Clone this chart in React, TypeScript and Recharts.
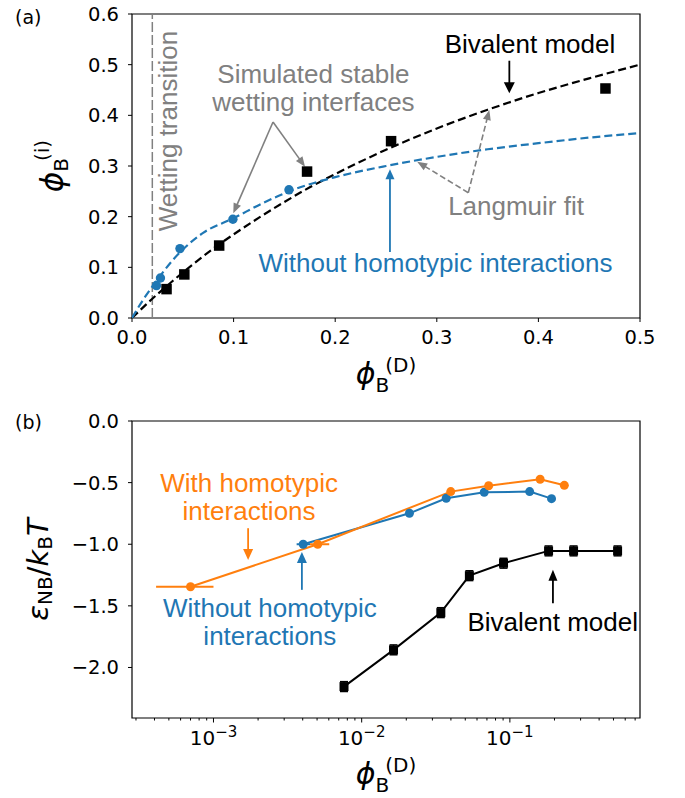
import React from 'react';
import {
  ComposedChart,
  Line,
  Scatter,
  XAxis,
  YAxis,
  ReferenceLine,
  ReferenceDot,
  ReferenceArea,
  ErrorBar,
} from 'recharts';

const BLUE = '#1f77b4';
const ORANGE = '#ff7f0e';
const GRAY = '#808080';
const MATH_FONT = '"DejaVu Sans", sans-serif';
const TEXT_FONT = '"Liberation Sans", Arial, sans-serif';
const TICK_SIZE = 19.5;
const NOTE_SIZE = 26;

// ---------- panel (a): interfacial vs dense-phase volume fraction ----------
const adsorptionXTicks = [0, 0.1, 0.2, 0.3, 0.4, 0.5];
const adsorptionYTicks = [0, 0.1, 0.2, 0.3, 0.4, 0.5, 0.6];
const wettingTransitionX = 0.02;

const bivalentSimPoints = [
  { x: 0.034, y: 0.057 },
  { x: 0.0515, y: 0.086 },
  { x: 0.0858, y: 0.143 },
  { x: 0.1723, y: 0.289 },
  { x: 0.255, y: 0.349 },
  { x: 0.466, y: 0.453 },
];

const homotypicFreeSimPoints = [
  { x: 0.0241, y: 0.064 },
  { x: 0.028, y: 0.079 },
  { x: 0.0472, y: 0.137 },
  { x: 0.0993, y: 0.195 },
  { x: 0.1545, y: 0.253 },
];

const bivalentModelCurve = [
  { x: 0, y: 0 },
  { x: 0.02, y: 0.038 },
  { x: 0.04, y: 0.073 },
  { x: 0.06, y: 0.106 },
  { x: 0.08, y: 0.137 },
  { x: 0.1, y: 0.165 },
  { x: 0.125, y: 0.198 },
  { x: 0.15, y: 0.229 },
  { x: 0.175, y: 0.258 },
  { x: 0.2, y: 0.284 },
  { x: 0.25, y: 0.332 },
  { x: 0.3, y: 0.374 },
  { x: 0.35, y: 0.411 },
  { x: 0.4, y: 0.444 },
  { x: 0.45, y: 0.473 },
  { x: 0.5, y: 0.5 },
];

const langmuirFitCurve = [
  { x: 0, y: 0 },
  { x: 0.01, y: 0.033 },
  { x: 0.02, y: 0.062 },
  { x: 0.03, y: 0.089 },
  { x: 0.04, y: 0.114 },
  { x: 0.05, y: 0.135 },
  { x: 0.07, y: 0.168 },
  { x: 0.1, y: 0.197 },
  { x: 0.13, y: 0.228 },
  { x: 0.16, y: 0.254 },
  { x: 0.2, y: 0.278 },
  { x: 0.25, y: 0.3 },
  { x: 0.3, y: 0.318 },
  { x: 0.35, y: 0.333 },
  { x: 0.4, y: 0.345 },
  { x: 0.45, y: 0.356 },
  { x: 0.5, y: 0.365 },
];

// ---------- panel (b): effective binding energy ----------
const energyXDomain = [2.82e-4, 0.755];
const energyXMajorTicks = [1e-3, 1e-2, 1e-1];
const energyXMajorExponents = ['\u22123', '\u22122', '\u22121'];
const energyXMinorTicks = [
  3e-4, 4e-4, 5e-4, 6e-4, 7e-4, 8e-4, 9e-4,
  2e-3, 3e-3, 4e-3, 5e-3, 6e-3, 7e-3, 8e-3, 9e-3,
  2e-2, 3e-2, 4e-2, 5e-2, 6e-2, 7e-2, 8e-2, 9e-2,
  2e-1, 3e-1, 4e-1, 5e-1, 6e-1, 7e-1,
];
const energyYTicks = [0, -0.5, -1, -1.5, -2];

const withHomotypicEnergy = [
  { x: 7.0e-4, y: -1.345, xerr: [2.9e-4, 3.0e-4] },
  { x: 5.05e-3, y: -1.0, xerr: [0.57e-3, 0.99e-3] },
  { x: 0.0399, y: -0.573 },
  { x: 0.0719, y: -0.525 },
  { x: 0.16, y: -0.473 },
  { x: 0.233, y: -0.522 },
];

const withoutHomotypicEnergy = [
  { x: 4.03e-3, y: -1.0, xerr: [0.39e-3, 0.45e-3] },
  { x: 0.021, y: -0.749 },
  { x: 0.0372, y: -0.627 },
  { x: 0.0671, y: -0.578 },
  { x: 0.136, y: -0.573 },
  { x: 0.191, y: -0.63 },
];

const bivalentEnergy = [
  { x: 7.6e-3, y: -2.155, yerr: 0.04 },
  { x: 0.0164, y: -1.857, yerr: 0.04 },
  { x: 0.0342, y: -1.555, yerr: 0.04 },
  { x: 0.0533, y: -1.255, yerr: 0.04 },
  { x: 0.0906, y: -1.154, yerr: 0.04 },
  { x: 0.1824, y: -1.054, yerr: 0.04 },
  { x: 0.269, y: -1.054, yerr: 0.04 },
  { x: 0.533, y: -1.054, yerr: 0.04 },
];

// ---------- drawing helpers ----------
const fmtFixed = (v: number) => v.toFixed(1);
const fmtSigned = (v: number) => (v < 0 ? '\u2212' : '') + Math.abs(v).toFixed(1);

const tickText = { fill: '#000', fontSize: TICK_SIZE, fontFamily: MATH_FONT };

type ArrowOpts = { dash?: string; width?: number; headLen?: number; headWidth?: number };

const arrowShape = (color: string, opts: ArrowOpts = {}) => (p: any) => {
  const { x1, y1, x2, y2 } = p;
  const headLen = opts.headLen ?? 10;
  const headWidth = opts.headWidth ?? 9;
  const dx = x2 - x1;
  const dy = y2 - y1;
  const len = Math.hypot(dx, dy) || 1;
  const ux = dx / len;
  const uy = dy / len;
  const bx = x2 - ux * headLen;
  const by = y2 - uy * headLen;
  const px = (-uy * headWidth) / 2;
  const py = (ux * headWidth) / 2;
  return (
    <g>
      <line
        x1={x1}
        y1={y1}
        x2={bx + ux * 1}
        y2={by + uy * 1}
        stroke={color}
        strokeWidth={opts.width ?? 1.6}
        strokeDasharray={opts.dash}
      />
      <polygon points={`${x2},${y2} ${bx + px},${by + py} ${bx - px},${by - py}`} fill={color} />
    </g>
  );
};

const noteShape = (lines: string[], color: string, lineGap = 28.3) => (p: any) => (
  <text x={p.cx} y={p.cy} fill={color} fontFamily={TEXT_FONT} fontSize={NOTE_SIZE} textAnchor="middle">
    {lines.map((t, i) => (
      <tspan key={t} x={p.cx} dy={i === 0 ? 0 : lineGap}>
        {t}
      </tspan>
    ))}
  </text>
);

const verticalNoteShape = (label: string, color: string) => (p: any) => (
  <text
    x={p.cx}
    y={p.cy}
    transform={`rotate(-90 ${p.cx} ${p.cy})`}
    fill={color}
    fontFamily={TEXT_FONT}
    fontSize={NOTE_SIZE}
    textAnchor="middle"
  >
    {label}
  </text>
);

const squareShape = (side: number, color: string) => (p: any) => (
  <rect x={p.cx - side / 2} y={p.cy - side / 2} width={side} height={side} fill={color} />
);

const circleShape = (r: number, color: string) => (p: any) => <circle cx={p.cx} cy={p.cy} r={r} fill={color} />;

const vb = (props: any) => props?.viewBox ?? { x: 0, y: 0, width: 0, height: 0 };

// x label: phi_B^(D)
const renderPhiDLabel = (props: any) => {
  const { x, y, width } = vb(props);
  const cx = x + width / 2;
  return (
    <text x={cx} y={y + 66} textAnchor="middle" fontFamily={MATH_FONT} fontSize={30} fill="#000">
      <tspan fontStyle="italic">{'\u03d5'}</tspan>
      <tspan fontSize={20} dy={8}>
        B
      </tspan>
      <tspan fontSize={20} dx={-4} dy={-20}>
        (D)
      </tspan>
    </text>
  );
};

// y label of panel (a): phi_B^(i), plus panel tag
const renderPhiILabel = (props: any) => {
  const { x, y, height } = vb(props);
  const cy = y + height / 2;
  const bx = x + 63;
  return (
    <g>
      <text x={x + 15} y={y + 9.7} fontFamily={MATH_FONT} fontSize={19} fill="#000">
        (a)
      </text>
      <text
        transform={`translate(${bx},${cy}) rotate(-90)`}
        textAnchor="middle"
        fontFamily={MATH_FONT}
        fontSize={31}
        fill="#000"
      >
        <tspan fontStyle="italic">{'\u03d5'}</tspan>
        <tspan fontSize={20} dy={5}>
          B
        </tspan>
        <tspan fontSize={20} dx={-3} dy={-19}>
          (i)
        </tspan>
      </text>
    </g>
  );
};

// y label of panel (b): eps_NB / k_B T, plus panel tag
const renderEnergyLabel = (props: any) => {
  const { x, y, height } = vb(props);
  const cy = y + height / 2;
  const bx = x + 48;
  return (
    <g>
      <text x={x + 15} y={y + 7.5} fontFamily={MATH_FONT} fontSize={19} fill="#000">
        (b)
      </text>
      <text
        transform={`translate(${bx},${cy}) rotate(-90)`}
        textAnchor="middle"
        fontFamily={MATH_FONT}
        fontSize={29}
        fill="#000"
      >
        <tspan fontStyle="italic">{'\u03b5'}</tspan>
        <tspan fontSize={20} dy={4}>
          NB
        </tspan>
        <tspan dy={-4}>/</tspan>
        <tspan fontStyle="italic">k</tspan>
        <tspan fontSize={20} dy={4}>
          B
        </tspan>
        <tspan fontStyle="italic" dy={-4}>
          T
        </tspan>
      </text>
    </g>
  );
};

const LogTick = (props: any) => {
  const { x, y, payload } = props;
  const idx = energyXMajorTicks.indexOf(payload.value);
  const major = idx >= 0;
  return (
    <g>
      <line x1={x} y1={y} x2={x} y2={y + (major ? 4.5 : 2.5)} stroke="#000" strokeWidth={1} />
      {major && (
        <text x={x} y={y + 27} textAnchor="middle" fontFamily={MATH_FONT} fontSize={20} fill="#000">
          10
          <tspan fontSize={15} dy={-8}>
            {energyXMajorExponents[idx]}
          </tspan>
        </text>
      )}
    </g>
  );
};

const AdsorptionPanel = () => (
  <ComposedChart width={685} height={400} margin={{ top: 14, right: 45, bottom: 0, left: 0 }}>
    <XAxis
      dataKey="x"
      type="number"
      domain={[0, 0.5]}
      allowDataOverflow
      ticks={adsorptionXTicks}
      interval={0}
      tickFormatter={fmtFixed}
      tick={tickText}
      tickSize={4}
      tickMargin={8}
      stroke="#000"
      axisLine={false}
      height={82}
      label={renderPhiDLabel}
    />
    <YAxis
      dataKey="y"
      type="number"
      domain={[0, 0.6]}
      allowDataOverflow
      ticks={adsorptionYTicks}
      interval={0}
      tickFormatter={fmtFixed}
      tick={tickText}
      tickSize={4}
      tickMargin={9}
      stroke="#000"
      axisLine={false}
      width={132}
      label={renderPhiILabel}
    />
    <ReferenceArea x1={0} x2={0.5} y1={0} y2={0.6} fill="none" stroke="#000" strokeWidth={1.2} ifOverflow="visible" />
    <ReferenceLine x={wettingTransitionX} stroke={GRAY} strokeWidth={1.5} strokeDasharray="10 3" />
    <ReferenceDot x={0.0443} y={0.369} ifOverflow="visible" shape={verticalNoteShape('Wetting transition', GRAY)} />

    <Line
      data={bivalentModelCurve}
      dataKey="y"
      type="monotone"
      stroke="#000"
      strokeWidth={2.2}
      strokeDasharray="8 4"
      dot={false}
      isAnimationActive={false}
    />
    <Line
      data={langmuirFitCurve}
      dataKey="y"
      type="monotone"
      stroke={BLUE}
      strokeWidth={2.2}
      strokeDasharray="8 4"
      dot={false}
      isAnimationActive={false}
    />
    <Scatter data={bivalentSimPoints} shape={squareShape(10.5, '#000')} isAnimationActive={false} />
    <Scatter data={homotypicFreeSimPoints} shape={circleShape(4.7, BLUE)} isAnimationActive={false} />

    <ReferenceDot x={0.3917} y={0.523} ifOverflow="visible" shape={noteShape(['Bivalent model'], '#000')} />
    <ReferenceLine
      segment={[{ x: 0.3714, y: 0.5078 }, { x: 0.3714, y: 0.4434 }]}
      ifOverflow="visible"
      shape={arrowShape('#000', { headWidth: 11, headLen: 11, width: 1.8 })}
    />

    <ReferenceDot
      x={0.1786}
      y={0.4638}
      ifOverflow="visible"
      shape={noteShape(['Simulated stable', 'wetting interfaces'], GRAY, 28)}
    />
    <ReferenceLine
      segment={[{ x: 0.1388, y: 0.3868 }, { x: 0.0997, y: 0.2066 }]}
      ifOverflow="visible"
      shape={arrowShape(GRAY, { headWidth: 8, headLen: 10 })}
    />
    <ReferenceLine
      segment={[{ x: 0.1388, y: 0.3868 }, { x: 0.1703, y: 0.2986 }]}
      ifOverflow="visible"
      shape={arrowShape(GRAY, { headWidth: 8, headLen: 10 })}
    />

    <ReferenceDot x={0.378} y={0.2033} ifOverflow="visible" shape={noteShape(['Langmuir fit'], GRAY)} />
    <ReferenceLine
      segment={[{ x: 0.331, y: 0.2473 }, { x: 0.2807, y: 0.3085 }]}
      ifOverflow="visible"
      shape={arrowShape(GRAY, { dash: '6 3', headWidth: 8, headLen: 10 })}
    />
    <ReferenceLine
      segment={[{ x: 0.331, y: 0.2473 }, { x: 0.3517, y: 0.4105 }]}
      ifOverflow="visible"
      shape={arrowShape(GRAY, { dash: '6 3', headWidth: 8, headLen: 10 })}
    />

    <ReferenceDot
      x={0.2987}
      y={0.0914}
      ifOverflow="visible"
      shape={noteShape(['Without homotypic interactions'], BLUE)}
    />
    <ReferenceLine
      segment={[{ x: 0.2539, y: 0.1303 }, { x: 0.2539, y: 0.2935 }]}
      ifOverflow="visible"
      shape={arrowShape(BLUE, { headWidth: 9, headLen: 10, width: 1.8 })}
    />
  </ComposedChart>
);

const EnergyPanel = () => (
  <ComposedChart width={685} height={398} margin={{ top: 21, right: 45, bottom: 0, left: 0 }}>
    <XAxis
      dataKey="x"
      type="number"
      scale="log"
      domain={energyXDomain}
      allowDataOverflow
      ticks={[...energyXMinorTicks, ...energyXMajorTicks].sort((a, b) => a - b)}
      interval={0}
      tick={LogTick}
      tickLine={false}
      axisLine={false}
      tickSize={0}
      tickMargin={0}
      height={80}
      label={renderPhiDLabel}
    />
    <YAxis
      dataKey="y"
      type="number"
      domain={[-2.41, 0]}
      allowDataOverflow
      ticks={energyYTicks}
      interval={0}
      tickFormatter={fmtSigned}
      tick={tickText}
      tickSize={4}
      tickMargin={9}
      stroke="#000"
      axisLine={false}
      width={132}
      label={renderEnergyLabel}
    />
    <ReferenceArea
      x1={energyXDomain[0]}
      x2={energyXDomain[1]}
      y1={-2.41}
      y2={0}
      fill="none"
      stroke="#000"
      strokeWidth={1.2}
      ifOverflow="visible"
    />

    <Line data={withoutHomotypicEnergy} dataKey="y" stroke={BLUE} strokeWidth={2} dot={false} isAnimationActive={false} />
    <Scatter data={withoutHomotypicEnergy} shape={circleShape(4.5, BLUE)} isAnimationActive={false}>
      <ErrorBar dataKey="xerr" direction="x" width={0} stroke={BLUE} strokeWidth={2} />
    </Scatter>

    <Line data={withHomotypicEnergy} dataKey="y" stroke={ORANGE} strokeWidth={2} dot={false} isAnimationActive={false} />
    <Scatter data={withHomotypicEnergy} shape={circleShape(4.5, ORANGE)} isAnimationActive={false}>
      <ErrorBar dataKey="xerr" direction="x" width={0} stroke={ORANGE} strokeWidth={2} />
    </Scatter>

    <Line data={bivalentEnergy} dataKey="y" stroke="#000" strokeWidth={2} dot={false} isAnimationActive={false} />
    <Scatter data={bivalentEnergy} shape={squareShape(9, '#000')} isAnimationActive={false}>
      <ErrorBar dataKey="yerr" direction="y" width={4} stroke="#000" strokeWidth={1.5} />
    </Scatter>

    <ReferenceDot
      x={1.739e-3}
      y={-0.573}
      ifOverflow="visible"
      shape={noteShape(['With homotypic', 'interactions'], ORANGE)}
    />
    <ReferenceLine
      segment={[{ x: 1.713e-3, y: -0.87 }, { x: 1.713e-3, y: -1.127 }]}
      ifOverflow="visible"
      shape={arrowShape(ORANGE, { headWidth: 10, headLen: 11, width: 1.8 })}
    />

    <ReferenceDot
      x={2.401e-3}
      y={-1.587}
      ifOverflow="visible"
      shape={noteShape(['Without homotypic', 'interactions'], BLUE)}
    />
    <ReferenceLine
      segment={[{ x: 3.95e-3, y: -1.37 }, { x: 3.95e-3, y: -1.062 }]}
      ifOverflow="visible"
      shape={arrowShape(BLUE, { headWidth: 10, headLen: 11, width: 1.8 })}
    />

    <ReferenceDot x={0.1946} y={-1.708} ifOverflow="visible" shape={noteShape(['Bivalent model'], '#000')} />
    <ReferenceLine
      segment={[{ x: 0.1952, y: -1.478 }, { x: 0.1952, y: -1.208 }]}
      ifOverflow="visible"
      shape={arrowShape('#000', { headWidth: 9, headLen: 11, width: 1.8 })}
    />
  </ComposedChart>
);

export default function App() {
  return (
    <div style={{ position: 'absolute', left: 0, top: 0, width: 685, height: 798, background: '#fff' }}>
      <AdsorptionPanel />
      <EnergyPanel />
    </div>
  );
}
